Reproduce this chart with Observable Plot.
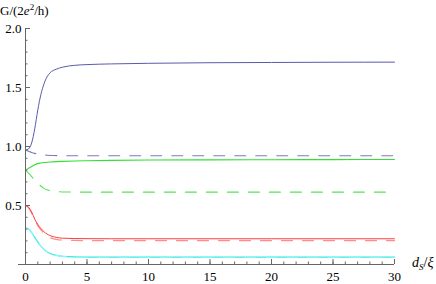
<!DOCTYPE html>
<html>
<head>
<meta charset="utf-8">
<script src="https://cdn.jsdelivr.net/npm/d3@7"></script>
<script src="https://cdn.jsdelivr.net/npm/@observablehq/plot@0.6"></script>
<style>
  body { margin: 0; background: #fff; }
  #wrap { position: relative; width: 436px; height: 284px; }
</style>
</head>
<body>
<div id="wrap">
  <div id="ylab" style="position:absolute; left:0px; top:4px; font-family:'Liberation Serif'; font-size:13px; line-height:1; white-space:nowrap;">G/(2<i>e</i><sup style="font-size:9px; vertical-align:5px; line-height:0;">2</sup>/h)</div>
  <div id="xlab" style="position:absolute; left:412px; top:256px; font-family:'Liberation Serif'; font-size:14px; line-height:1; white-space:nowrap;"><i>d<sub style="font-size:9px; vertical-align:-3px; line-height:0;">S</sub></i>/<i>ξ</i></div>
</div>
<script>
const xGrid = [0, 0.25, 0.5, 0.75, 1, 1.25, 1.5, 1.75, 2, 2.5, 3, 4, 5, 7, 10, 15, 20, 25, 30];

const blueSolid  = [0.97, 0.98, 1.03, 1.15, 1.31, 1.44, 1.53, 1.59, 1.625, 1.655, 1.672, 1.688, 1.694, 1.70, 1.705, 1.71, 1.712, 1.714, 1.715];
const blueDashed = [0.97, 0.96, 0.95, 0.942, 0.936, 0.931, 0.928, 0.926, 0.924, 0.923, 0.922, 0.922, 0.922, 0.922, 0.922, 0.922, 0.922, 0.922, 0.922];
const greenSolid = [0.80, 0.815, 0.83, 0.845, 0.855, 0.86, 0.864, 0.867, 0.869, 0.872, 0.874, 0.877, 0.879, 0.882, 0.885, 0.887, 0.888, 0.889, 0.89];
const greenDashed= [0.80, 0.775, 0.745, 0.715, 0.69, 0.665, 0.645, 0.633, 0.625, 0.618, 0.615, 0.614, 0.613, 0.613, 0.613, 0.613, 0.613, 0.613, 0.613];
const redSolid   = [0.50, 0.485, 0.445, 0.385, 0.34, 0.305, 0.278, 0.258, 0.245, 0.23, 0.223, 0.22, 0.219, 0.218, 0.218, 0.218, 0.218, 0.218, 0.218];
const redDashed  = [0.50, 0.48, 0.435, 0.375, 0.33, 0.293, 0.265, 0.243, 0.228, 0.213, 0.207, 0.204, 0.203, 0.203, 0.203, 0.203, 0.203, 0.203, 0.203];
const cyanSolid  = [0.31, 0.30, 0.27, 0.23, 0.19, 0.155, 0.128, 0.107, 0.093, 0.077, 0.069, 0.064, 0.063, 0.062, 0.062, 0.062, 0.062, 0.062, 0.062];
const cyanDashed = [0.31, 0.30, 0.27, 0.23, 0.19, 0.155, 0.128, 0.107, 0.093, 0.077, 0.069, 0.064, 0.063, 0.062, 0.062, 0.062, 0.062, 0.062, 0.062];

const xMajor = [0, 5, 10, 15, 20, 25, 30];
const xMinor = d3.range(0, 31, 1);
const yMajor = [0.5, 1.0, 1.5, 2.0];
const yMinor = d3.range(0.1, 2.001, 0.1);

const FONT = "Liberation Serif";

const series = [
  {y: blueDashed,  color: "#7c7cbc", dash: "11,10", w: 1.1},
  {y: greenDashed, color: "#55e455", dash: "11,10", w: 1.1},
  {y: redDashed,   color: "#ff8c8c", dash: "11,10", w: 1.2},
  {y: cyanSolid,   color: "#33e6e6", dash: null,    w: 1.2},
  {y: cyanDashed,  color: "#8ff5f5", dash: "11,10", w: 1.2},
  {y: blueSolid,   color: "#5a5aae", dash: null,    w: 1.0},
  {y: greenSolid,  color: "#33e033", dash: null,    w: 1.1},
  {y: redSolid,    color: "#ff3c3c", dash: null,    w: 1.0}
];

const lineMarks = series.map(s =>
  Plot.line(xGrid.map((x, i) => ({x, y: s.y[i]})), {
    x: "x", y: "y", stroke: s.color, strokeWidth: s.w,
    strokeDasharray: s.dash, curve: "monotone-x"
  })
);

const chart = Plot.plot({
  width: 436,
  height: 284,
  marginLeft: 25,
  marginRight: 42,
  marginTop: 28,
  marginBottom: 20,
  style: {fontFamily: FONT, fontSize: "13px", background: "transparent", overflow: "visible"},
  x: {domain: [0, 30]},
  y: {domain: [0, 2]},
  marks: [
    ...lineMarks,
    Plot.ruleY([0], {stroke: "#666", insetLeft: -7}),
    Plot.ruleX([0], {stroke: "#666"}),
    Plot.axisY(yMinor, {tickSize: -2.5, text: null, stroke: "#666", label: null}),
    Plot.axisY(yMajor, {tickSize: -5, tickPadding: 9, fontFamily: FONT, fontSize: 13, tickFormat: d3.format(".1f"), stroke: "#666", fill: "#000", label: null}),
    Plot.axisX(xMinor, {tickSize: -2.5, text: null, stroke: "#666", label: null}),
    Plot.axisX(xMajor, {tickSize: -5, tickPadding: 12, fontFamily: FONT, fontSize: 13, stroke: "#666", fill: "#000", label: null})
  ]
});
document.getElementById("wrap").prepend(chart);
chart.style.position = "absolute";
chart.style.left = "0px";
chart.style.top = "0px";
</script>
</body>
</html>
